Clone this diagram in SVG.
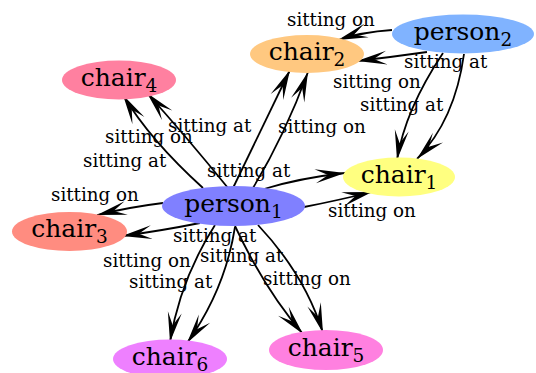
<svg xmlns="http://www.w3.org/2000/svg" width="536" height="373" viewBox="0 0 536 373">
  <defs>
    <marker id="vee" markerUnits="userSpaceOnUse" markerWidth="1" markerHeight="1" refX="0" refY="0" orient="auto" overflow="visible">
      <path d="M0,0 L-30,-7 L-17,0 L-30,7 Z" fill="#000"/>
    </marker>
  </defs>
  <style>
    .edge { fill: none; stroke: #000; stroke-width: 1.8; marker-end: url(#vee); }
    .lbl { font-family: "DejaVu Serif", "Liberation Serif", serif; font-size: 18.3px; fill: #000; }
    .nt { font-family: "DejaVu Serif", "Liberation Serif", serif; font-size: 25px; fill: #000; text-anchor: middle; }
    .sub { font-size: 18.5px; }
  </style>
  <rect width="536" height="373" fill="#fff"/>

  <g id="connectors">
    <path class="edge" d="M392,30 Q362,32 338,40"/>
    <path class="edge" d="M427,52 Q392,57 357,61"/>
    <path class="edge" d="M443,53 Q405,110 397,160"/>
    <path class="edge" d="M464,54 Q455,120 417,159"/>
    <path class="edge" d="M233,188 Q262,128 290,70"/>
    <path class="edge" d="M253,188 Q285,135 308,72"/>
    <path class="edge" d="M264,189 Q300,178 345,173"/>
    <path class="edge" d="M304,207 Q335,201 372,192"/>
    <path class="edge" d="M203,188 Q150,140 123,95"/>
    <path class="edge" d="M228,188 Q185,135 147,93"/>
    <path class="edge" d="M163,203 Q130,207 97,215"/>
    <path class="edge" d="M200,223 Q160,231 122,236"/>
    <path class="edge" d="M215,225 Q180,280 170,342"/>
    <path class="edge" d="M235,227 Q225,290 187,343"/>
    <path class="edge" d="M235,226 Q265,290 303,334"/>
    <path class="edge" d="M258,225 Q305,275 323,333"/>
  </g>

  <g id="edge-labels">
    <text class="lbl" x="287" y="26">sitting on</text>
    <text class="lbl" x="333" y="88">sitting on</text>
    <text class="lbl" x="404" y="68">sitting at</text>
    <text class="lbl" x="360" y="111">sitting at</text>
    <text class="lbl" x="278" y="133">sitting on</text>
    <text class="lbl" x="168" y="132">sitting at</text>
    <text class="lbl" x="105" y="143">sitting on</text>
    <text class="lbl" x="83" y="167">sitting at</text>
    <text class="lbl" x="207" y="177">sitting at</text>
    <text class="lbl" x="51" y="201">sitting on</text>
    <text class="lbl" x="328" y="217">sitting on</text>
    <text class="lbl" x="173" y="242">sitting at</text>
    <text class="lbl" x="200" y="262">sitting at</text>
    <text class="lbl" x="103" y="267">sitting on</text>
    <text class="lbl" x="129" y="288">sitting at</text>
    <text class="lbl" x="263" y="285">sitting on</text>
  </g>

  <g id="person1">
    <ellipse cx="233.5" cy="206" rx="71.5" ry="20" fill="#8080ff"/>
    <text class="nt" x="233.5" y="212">person<tspan class="sub" dy="6">1</tspan></text>
  </g>
  <g id="person2">
    <ellipse cx="463" cy="34" rx="71" ry="19.5" fill="#80b3ff"/>
    <text class="nt" x="463" y="40">person<tspan class="sub" dy="6">2</tspan></text>
  </g>
  <g id="chair1">
    <ellipse cx="399" cy="177" rx="56" ry="19.5" fill="#ffff80"/>
    <text class="nt" x="399" y="183">chair<tspan class="sub" dy="6">1</tspan></text>
  </g>
  <g id="chair2">
    <ellipse cx="307" cy="54" rx="57" ry="19" fill="#ffc880"/>
    <text class="nt" x="307" y="60">chair<tspan class="sub" dy="6">2</tspan></text>
  </g>
  <g id="chair3">
    <ellipse cx="69.5" cy="231.5" rx="57.5" ry="19.5" fill="#ff8c80"/>
    <text class="nt" x="69.5" y="237">chair<tspan class="sub" dy="6">3</tspan></text>
  </g>
  <g id="chair4">
    <ellipse cx="119" cy="80" rx="57" ry="19.5" fill="#ff80a0"/>
    <text class="nt" x="119" y="86">chair<tspan class="sub" dy="6">4</tspan></text>
  </g>
  <g id="chair5">
    <ellipse cx="326" cy="350" rx="57" ry="20" fill="#ff80e0"/>
    <text class="nt" x="326" y="356">chair<tspan class="sub" dy="6">5</tspan></text>
  </g>
  <g id="chair6">
    <ellipse cx="170" cy="359" rx="57" ry="19.5" fill="#ee80ff"/>
    <text class="nt" x="170" y="365">chair<tspan class="sub" dy="6">6</tspan></text>
  </g>
</svg>
